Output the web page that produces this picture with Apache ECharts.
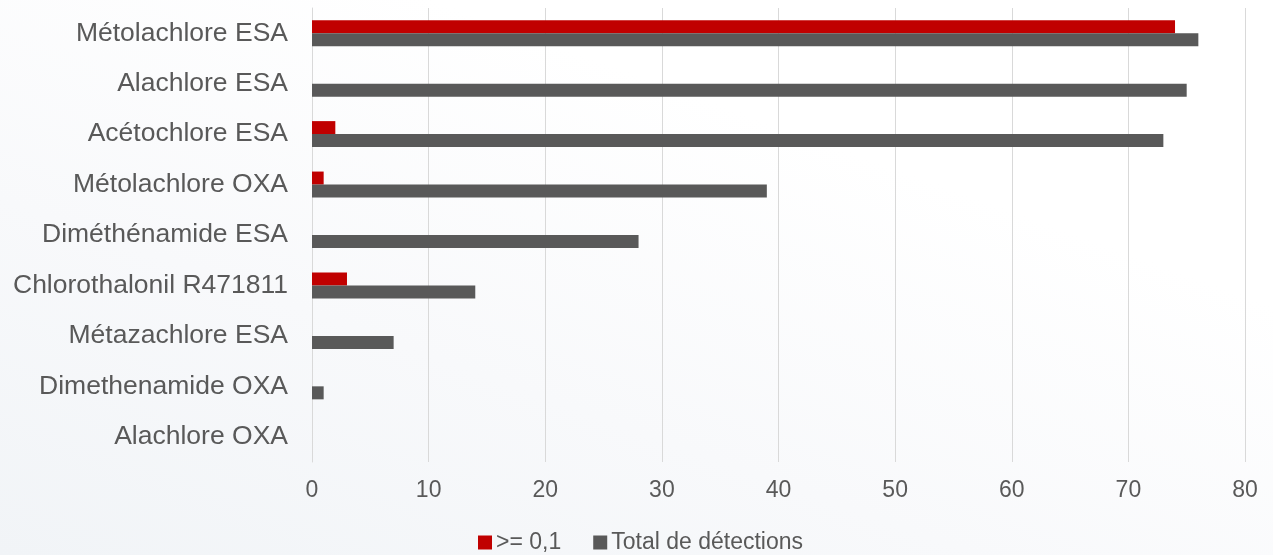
<!DOCTYPE html>
<html>
<head>
<meta charset="utf-8">
<script src="https://cdn.jsdelivr.net/npm/echarts@6/dist/echarts.min.js"></script>
<style>
  html, body { margin: 0; padding: 0; }
  body {
    width: 1273px; height: 555px;
    background: linear-gradient(20deg, #f1f4f7 0%, #f8f9fb 35%, #ffffff 70%);
  }
  #chart { width: 1273px; height: 555px; }
</style>
</head>
<body>
<div id="chart"></div>
<script>
// Metabolites, listed top to bottom
const categories = [
  'Métolachlore ESA',
  'Alachlore ESA',
  'Acétochlore ESA',
  'Métolachlore OXA',
  'Diméthénamide ESA',
  'Chlorothalonil R471811',
  'Métazachlore ESA',
  'Dimethenamide OXA',
  'Alachlore OXA'
];
// Detections at or above 0.1
const aboveThreshold = [74, 0, 2, 1, 0, 3, 0, 0, 0];
// All detections
const totalDetections = [76, 75, 73, 39, 28, 14, 7, 1, 0];
const seriesNames = ['>= 0,1', 'Total de détections'];
const xTicks = [0, 10, 20, 30, 40, 50, 60, 70, 80];

const textColor = '#595959';
const fontFamily = '"Liberation Sans", Arial, sans-serif';

const chart = echarts.init(document.getElementById('chart'), null, { renderer: 'canvas' });

chart.setOption({
  backgroundColor: 'transparent',
  animation: false,
  textStyle: { fontFamily: fontFamily, color: textColor },
  grid: { left: 312, right: 28, top: 8, bottom: 93, containLabel: false },
  legend: {
    data: seriesNames,
    left: 473,
    top: 526,
    itemWidth: 14,
    itemHeight: 14,
    itemGap: 32,
    icon: 'rect',
    textStyle: { fontSize: 23, color: textColor, fontFamily: fontFamily, padding: [0, 0, 0, -1] }
  },
  xAxis: {
    type: 'value',
    min: xTicks[0],
    max: xTicks[xTicks.length - 1],
    interval: xTicks[1] - xTicks[0],
    axisLine: { show: false },
    axisTick: { show: false },
    splitLine: { show: true, lineStyle: { color: '#d9d9d9', width: 1 } },
    axisLabel: { fontSize: 23, color: textColor, margin: 17, fontFamily: fontFamily }
  },
  yAxis: {
    type: 'category',
    data: categories,
    inverse: true,
    axisLine: { show: true, lineStyle: { color: '#d9d9d9', width: 1 } },
    axisTick: { show: false },
    axisLabel: { fontSize: 26.5, color: textColor, margin: 24, fontFamily: fontFamily }
  },
  series: [
    {
      name: seriesNames[0],
      type: 'bar',
      data: aboveThreshold,
      barWidth: 13,
      barGap: '0%',
      itemStyle: { color: '#c00000' }
    },
    {
      name: seriesNames[1],
      type: 'bar',
      data: totalDetections,
      barWidth: 13,
      barGap: '0%',
      itemStyle: { color: '#595959' }
    }
  ]
});
</script>
</body>
</html>
